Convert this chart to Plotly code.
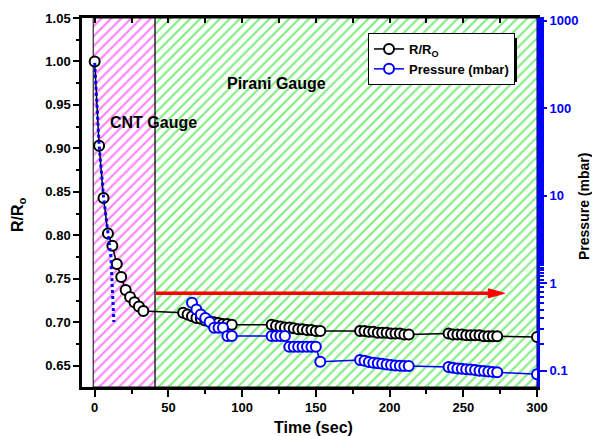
import plotly.graph_objects as go

# ---------------- data ----------------
time_rr = [0, 3, 6, 9, 12, 15, 18, 21, 24, 27, 30, 33,
           60, 63, 66, 69, 72, 75, 78, 81, 84, 87, 90, 93,
           120, 123, 126, 129, 132, 135, 138, 141, 144, 147, 150, 153,
           180, 183, 186, 189, 192, 195, 198, 201, 204, 207, 210, 213,
           240, 243, 246, 249, 252, 255, 258, 261, 264, 267, 270, 273,
           300]
rr = [1.000, 0.903, 0.843, 0.802, 0.788, 0.767, 0.752, 0.737, 0.729, 0.723, 0.718, 0.713,
      0.711, 0.709, 0.707, 0.705, 0.704, 0.702, 0.701, 0.700, 0.699, 0.698, 0.698, 0.697,
      0.697, 0.696, 0.695, 0.694, 0.694, 0.693, 0.692, 0.692, 0.691, 0.691, 0.690, 0.690,
      0.690, 0.690, 0.689, 0.689, 0.688, 0.688, 0.688, 0.687, 0.687, 0.687, 0.686, 0.686,
      0.687, 0.686, 0.686, 0.686, 0.685, 0.685, 0.685, 0.685, 0.684, 0.684, 0.684, 0.684,
      0.683]

time_p = [66, 69, 72, 75, 78, 81, 84, 87, 90, 93,
          120, 123, 126, 129, 132, 135, 138, 141, 144, 147, 150, 153,
          180, 183, 186, 189, 192, 195, 198, 201, 204, 207, 210, 213,
          240, 243, 246, 249, 252, 255, 258, 261, 264, 267, 270, 273,
          300]
pressure = [0.60, 0.50, 0.44, 0.40, 0.36, 0.31, 0.31, 0.31, 0.25, 0.25,
            0.25, 0.25, 0.25, 0.25, 0.188, 0.188, 0.188, 0.188, 0.188, 0.188, 0.188, 0.127,
            0.133, 0.130, 0.126, 0.123, 0.122, 0.120, 0.118, 0.116, 0.115, 0.114, 0.113, 0.113,
            0.110, 0.108, 0.106, 0.105, 0.104, 0.103, 0.102, 0.100, 0.099, 0.098, 0.097, 0.096,
            0.091]

time_cnt = [0, 3, 6, 9, 11, 13]
pressure_cnt = [330, 38, 9.8, 3.9, 2.0, 0.36]

x_ticks = [0, 50, 100, 150, 200, 250, 300]
y_ticks = [0.65, 0.70, 0.75, 0.80, 0.85, 0.90, 0.95, 1.00, 1.05]
p_ticks = [0.1, 1, 10, 100, 1000]
p_tick_labels = ["0.1", "1", "10", "100", "1000"]

cnt_region = [-1, 41]
pirani_region = [41, 300]
arrow_x = [41.5, 278]
arrow_y = 0.7333

x_range = [-8.6, 300]
y_range = [0.6255, 1.05]
p_range_log = [-1.186, 3.031]

FONT = "Liberation Sans"
W, H = 592, 436
ML, MR, MT, MB = 82, 55, 18, 49

fig = go.Figure()

# hatched regions
for reg, col in [(cnt_region, "#ff00ff"), (pirani_region, "#00dd00")]:
    fig.add_trace(go.Scatter(
        x=[reg[0], reg[1], reg[1], reg[0], reg[0]],
        y=[y_range[0], y_range[0], y_range[1], y_range[1], y_range[0]],
        mode="lines", fill="toself", fillcolor="white",
        fillpattern=dict(shape="/", fgcolor=col, bgcolor="white", size=7, solidity=0.3),
        line=dict(color="black", width=1), showlegend=False, hoverinfo="skip"))

# R/R0
fig.add_trace(go.Scatter(
    x=time_rr, y=rr, mode="lines+markers", name="<b>R/R<sub>O</sub></b>",
    line=dict(color="black", width=1.5),
    marker=dict(symbol="circle", size=10, color="white", line=dict(color="black", width=2))))

# Pressure
fig.add_trace(go.Scatter(
    x=time_p, y=pressure, mode="lines+markers", name="<b>Pressure (mbar)</b>", yaxis="y2",
    line=dict(color="blue", width=1.5),
    marker=dict(symbol="circle", size=10, color="white", line=dict(color="blue", width=2))))

# CNT pressure (dotted)
fig.add_trace(go.Scatter(
    x=time_cnt, y=pressure_cnt, mode="lines", yaxis="y2", showlegend=False,
    line=dict(color="blue", width=3, dash="dot")))

# dummy for top axis
fig.add_trace(go.Scatter(x=[None], y=[None], xaxis="x2", showlegend=False, hoverinfo="skip"))

# red arrow
fig.add_shape(type="line", x0=arrow_x[0], x1=arrow_x[1] - 9, y0=arrow_y, y1=arrow_y,
              xref="x", yref="y", line=dict(color="red", width=3.5), layer="above")
fig.add_shape(type="path",
              path=f"M {arrow_x[1]-11},{arrow_y-0.0052} L {arrow_x[1]},{arrow_y} L {arrow_x[1]-11},{arrow_y+0.0052} Z",
              xref="x", yref="y", fillcolor="red", line=dict(color="red", width=1), layer="above")

# legend shadow
fig.add_shape(type="rect", xref="paper", yref="paper",
              x0=(373 - ML) / 455, x1=(517 - ML) / 455,
              y0=(387 - 82) / 369, y1=(387 - 38) / 369,
              fillcolor="black", line=dict(width=0), layer="above")

tickf = dict(family=FONT, size=13, color="black")

fig.update_layout(
    width=W, height=H, margin=dict(l=ML, r=MR, t=MT, b=MB),
    paper_bgcolor="white", plot_bgcolor="white",
    font=dict(family=FONT, color="black"),
    showlegend=True,
    legend=dict(x=(368 - ML) / 455, y=(387 - 33) / 369, xanchor="left", yanchor="top",
                bgcolor="white", bordercolor="black", borderwidth=1,
                font=dict(family=FONT, size=13, color="black"),
                itemwidth=30, tracegroupgap=0),
    xaxis=dict(range=x_range, showgrid=False, zeroline=False, showline=True,
               linecolor="black", linewidth=2.5, ticks="outside", ticklen=7, tickwidth=1.5,
               tickcolor="black", tickvals=x_ticks,
               ticktext=[f"<b>{v}</b>" for v in x_ticks], tickfont=tickf,
               minor=dict(ticks="outside", ticklen=4, tickwidth=1.5, dtick=25, tick0=0,
                          tickcolor="black")),
    xaxis2=dict(range=x_range, overlaying="x", side="top", showgrid=False, zeroline=False,
                showline=True, linecolor="black", linewidth=2.5, ticks="inside", ticklen=5,
                tickwidth=1.5, tickcolor="black", tick0=0, dtick=25, showticklabels=False),
    yaxis=dict(range=y_range, showgrid=False, zeroline=False, showline=True,
               linecolor="black", linewidth=2.5, ticks="outside", ticklen=6, tickwidth=1.5,
               tickcolor="black", tickvals=y_ticks,
               ticktext=[f"<b>{v:.2f}</b>" for v in y_ticks], tickfont=tickf,
               minor=dict(ticks="outside", ticklen=3.5, tickwidth=1.5, dtick=0.025,
                          tick0=0.625, tickcolor="black")),
    yaxis2=dict(type="log", range=p_range_log, overlaying="y", side="right", showgrid=False,
                zeroline=False, showline=True, linecolor="blue", linewidth=3,
                ticks="outside", ticklen=7, tickwidth=1.5, tickcolor="blue",
                tickvals=p_ticks, ticktext=[f"<b>{t}</b>" for t in p_tick_labels],
                tickfont=dict(family=FONT, size=13, color="blue"),
                minor=dict(ticks="outside", ticklen=4, tickwidth=1.5, tickcolor="blue")),
    annotations=[
        dict(text="<b>Time (sec)</b>", xref="paper", yref="paper", x=(313 - ML) / 455, y=(387 - 427) / 369,
             showarrow=False, font=dict(family=FONT, size=16),
             xanchor="center", yanchor="middle"),
        dict(text="<b>R/R<sub>o</sub></b>", xref="paper", yref="paper", x=(18 - ML) / 455, y=(387 - 215) / 369,
             showarrow=False, textangle=-90, font=dict(family=FONT, size=16),
             xanchor="center", yanchor="middle"),
        dict(text="<b>Pressure (mbar)</b>", xref="paper", yref="paper", x=(584 - ML) / 455, y=(387 - 207) / 369,
             showarrow=False, textangle=-90, font=dict(family=FONT, size=14),
             xanchor="center", yanchor="middle"),
        dict(text="<b>CNT Gauge</b>", xref="paper", yref="paper", x=(153.5 - ML) / 455, y=(387 - 122.7) / 369,
             showarrow=False, font=dict(family=FONT, size=16),
             xanchor="center", yanchor="middle"),
        dict(text="<b>Pirani Gauge</b>", xref="paper", yref="paper", x=(276.7 - ML) / 455, y=(387 - 83.3) / 369,
             showarrow=False, font=dict(family=FONT, size=16),
             xanchor="center", yanchor="middle"),
    ],
)

fig.write_html("out.html")
